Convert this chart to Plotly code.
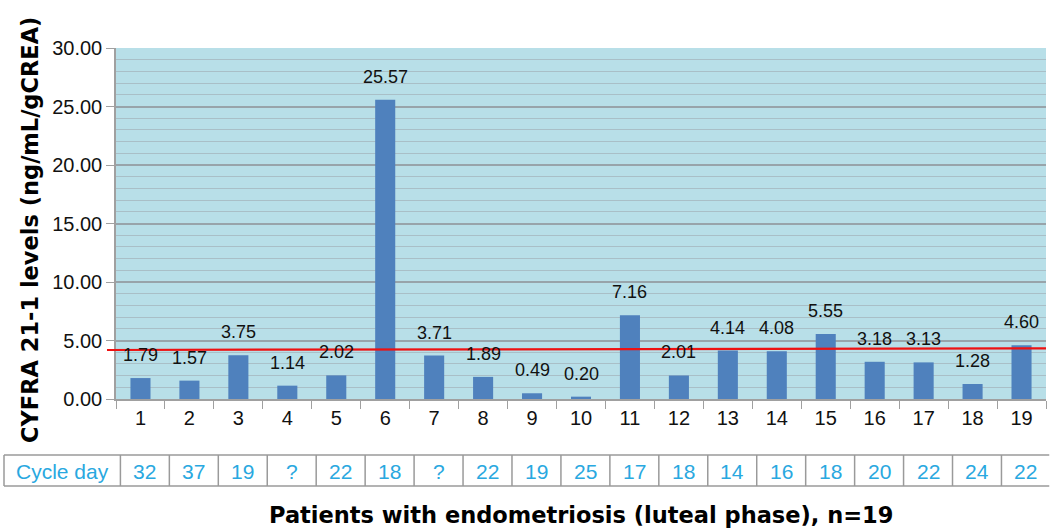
import plotly.graph_objects as go

patients = [str(i) for i in range(1, 20)]
cyfra = [1.79, 1.57, 3.75, 1.14, 2.02, 25.57, 3.71, 1.89, 0.49, 0.20,
         7.16, 2.01, 4.14, 4.08, 5.55, 3.18, 3.13, 1.28, 4.60]
cycle_day = ["32", "37", "19", "?", "22", "18", "?", "22", "19", "25",
             "17", "18", "14", "16", "18", "20", "22", "24", "22"]
cutoff_start = 4.19
cutoff_end = 4.33
y_ticks = [0, 5, 10, 15, 20, 25, 30]

W, H = 1050, 532
L, R, T, B = 116, 4, 48, 133
pw = W - L - R
ph = H - T - B

def px_x(p):
    return (p - L) / pw

def px_y(p):
    return (H - B - p) / ph

fig = go.Figure()
fig.add_trace(go.Bar(
    x=patients, y=cyfra, width=0.41,
    marker=dict(color="#4f81bd", line=dict(width=0)),
    hoverinfo="x+y",
))

annotations = []
for i, v in enumerate(cyfra):
    annotations.append(dict(
        x=i, y=v, xref="x", yref="y", text=f"{v:.2f}", showarrow=False,
        xanchor="center", yanchor="middle", yshift=23, font=dict(size=18, color="#111111"),
    ))

# Table
shapes = []
t_top = px_y(455)
t_bot = px_y(486)
t_mid = px_y(471)
off = 0.09
border = dict(color="#9a9a9a", width=1.5)
shapes.append(dict(type="line", xref="paper", yref="paper", x0=px_x(4), x1=1.0035,
                   y0=t_top, y1=t_top, line=border))
shapes.append(dict(type="line", xref="paper", yref="paper", x0=px_x(4), x1=1.0035,
                   y0=t_bot, y1=t_bot, line=border))
shapes.append(dict(type="line", xref="paper", yref="paper", x0=px_x(4), x1=px_x(4),
                   y0=t_top, y1=t_bot, line=border))
for i in range(len(patients) + 1):
    shapes.append(dict(type="line", xref="x", yref="paper", x0=i - 0.5 + off, x1=i - 0.5 + off,
                       y0=t_top, y1=t_bot, line=border))
annotations.append(dict(x=px_x(62), y=t_mid, xref="paper", yref="paper", text="Cycle day",
                        xanchor="center", yanchor="middle",
                        showarrow=False, font=dict(size=21, color="#29a8e0")))
for i, d in enumerate(cycle_day):
    annotations.append(dict(x=i + off, y=t_mid, xref="x", yref="paper", text=d,
                            xanchor="center", yanchor="middle",
                            showarrow=False, font=dict(size=21, color="#29a8e0")))

# cutoff red line
shapes.append(dict(type="line", xref="paper", yref="y", x0=px_x(107), x1=1.0,
                   y0=cutoff_start, y1=cutoff_end, line=dict(color="#ee1111", width=2.2)))

# axis titles
annotations.append(dict(x=px_x(30), y=px_y(230), xref="paper", yref="paper",
                        text="<b>CYFRA 21-1 levels (ng/mL/gCREA)</b>", textangle=-90,
                        xanchor="center", yanchor="middle",
                        showarrow=False,
                        font=dict(size=22.5, color="#000000", family="DejaVu Sans, sans-serif")))
annotations.append(dict(x=0.5, y=px_y(515), xref="paper", yref="paper",
                        text="<b>Patients with endometriosis (luteal phase), n=19</b>",
                        xanchor="center", yanchor="middle",
                        showarrow=False,
                        font=dict(size=22.5, color="#000000", family="DejaVu Sans, sans-serif")))

fig.update_layout(
    width=W, height=H,
    margin=dict(l=L, r=R, t=T, b=B, autoexpand=False),
    paper_bgcolor="white",
    plot_bgcolor="#b8dfe8",
    font=dict(family="Liberation Sans, Arial, sans-serif", color="#111111"),
    showlegend=False,
    shapes=shapes,
    annotations=annotations,
    bargap=0.59,
)
fig.update_xaxes(
    type="category", showline=True, linecolor="#a0a0a0", linewidth=1.5,
    ticks="outside", tickson="boundaries", ticklen=8, tickcolor="#a0a0a0",
    tickfont=dict(size=20, color="#111111"), showgrid=False,
    range=[-0.5, 18.5], automargin=False,
)
fig.update_yaxes(
    range=[0, 30], tickvals=y_ticks, tickformat=".2f",
    tickfont=dict(size=20, color="#111111"),
    showline=True, linecolor="#a0a0a0", linewidth=1.5,
    ticks="outside", ticklen=8, tickcolor="#a0a0a0",
    showgrid=True, gridcolor="#98a4aa", gridwidth=1.5,
    minor=dict(dtick=1, showgrid=True, gridcolor="#a9bfc7", gridwidth=1.2, ticks=""),
    zeroline=False, automargin=False,
)

fig.write_html(
    "out.html",
    config={"displayModeBar": False},
    post_script="document.body.style.margin='0';document.body.style.overflow='hidden';",
)
